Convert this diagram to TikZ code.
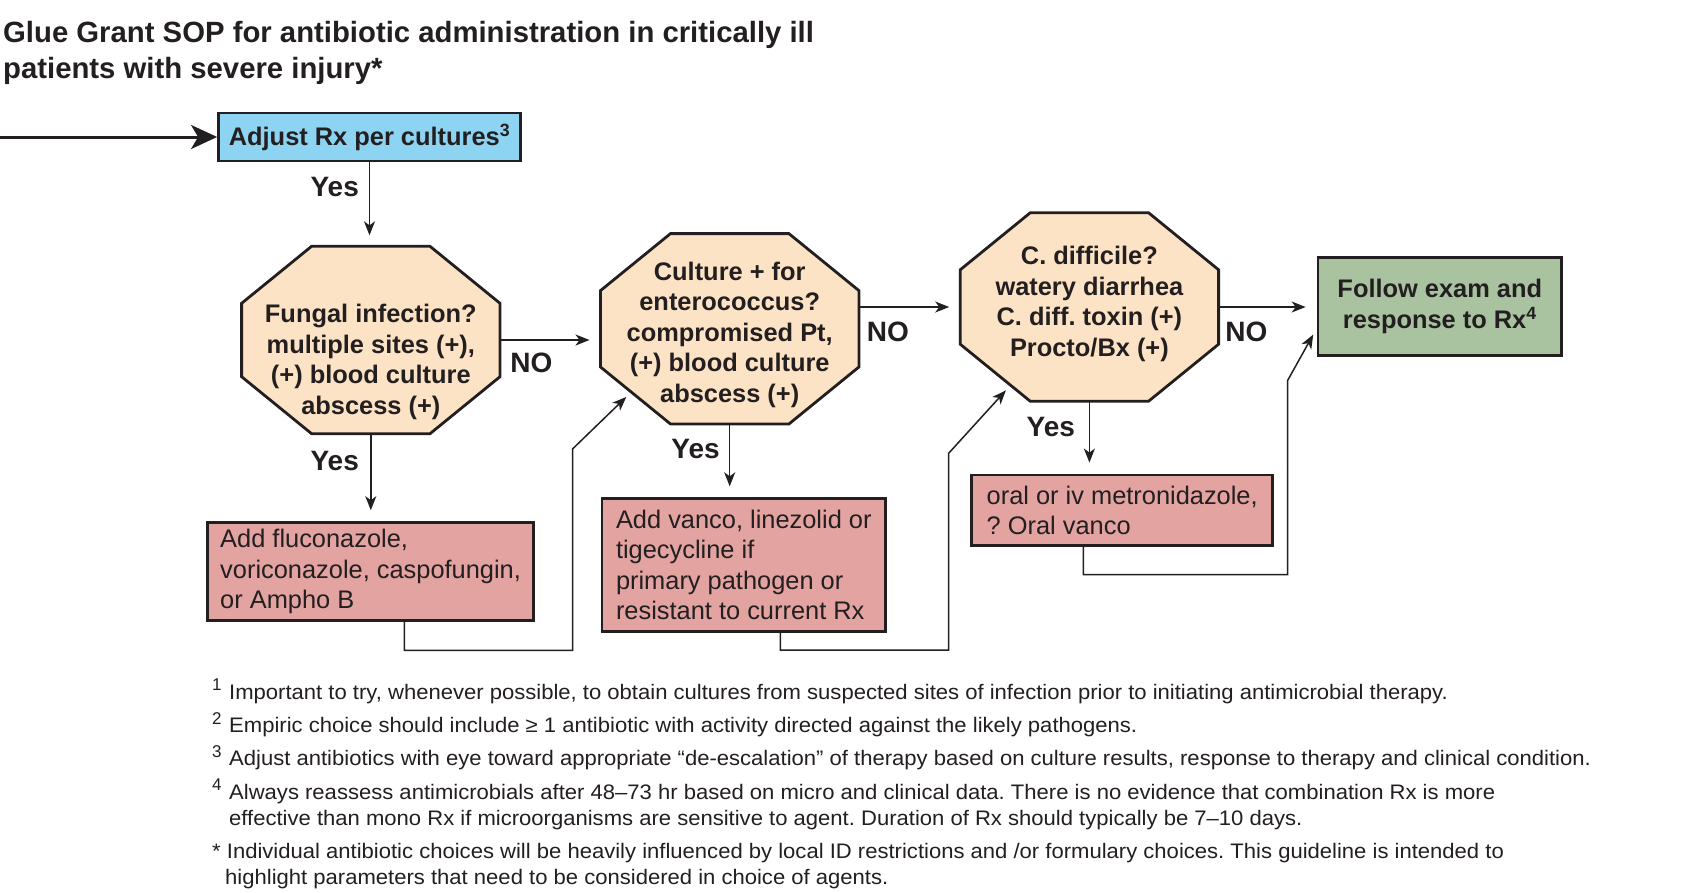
\documentclass[tikz,border=0pt]{standalone}
\usepackage{fontspec}
\setmainfont{Liberation Sans}
\newfontfamily\fnfont[FakeStretch=1.05]{Liberation Sans}
\usetikzlibrary{arrows.meta,calc}
\frenchspacing
\definecolor{ink}{HTML}{231F20}
\definecolor{bluebox}{HTML}{8DD3F2}
\definecolor{peach}{HTML}{FDE3C5}
\definecolor{greenbox}{HTML}{A9C3A0}
\definecolor{redbox}{HTML}{E2A3A1}
\newcommand\octpath[1]{%
  \draw[octline] ([xshift=70pt]#1.north west) -- ([xshift=-70pt]#1.north east)
    -- ([yshift=-57pt]#1.north east) -- ([yshift=57pt]#1.south east)
    -- ([xshift=-70pt]#1.south east) -- ([xshift=70pt]#1.south west)
    -- ([yshift=57pt]#1.south west) -- ([yshift=-57pt]#1.north west) -- cycle;}
\begin{document}
\frenchspacing
\begin{tikzpicture}[x=1pt,y=-1pt,
  boldtxt/.style={font=\fontsize{25.4}{30.5}\selectfont\bfseries, text=ink},
  labeltxt/.style={font=\fontsize{28}{32}\selectfont\bfseries, text=ink},
  plaintxt/.style={font=\fontsize{25.4}{30.5}\selectfont, text=ink},
  box/.style={draw=ink, line width=2.8pt, inner sep=0pt},
  octline/.style={draw=ink, fill=peach, line width=2.8pt, line join=miter},
  octframe/.style={minimum width=258pt, inner sep=0pt, draw=none},
  conn/.style={draw=ink, line width=1.5pt, -{Stealth[length=14pt,width=11pt,inset=4pt]}, shorten >=11pt},
  link/.style={draw=ink, line width=1.5pt, -{Stealth[length=14pt,width=11pt,inset=4pt]}, shorten >=7pt},
  inarrow/.style={draw=ink, line width=3pt, -{Stealth[length=26pt,width=24pt,inset=7pt]}},
  fn/.style={anchor=base west, font=\fnfont\fontsize{21}{24}\selectfont, text=ink, inner sep=0pt},
  fnm/.style={anchor=base west, font=\fontsize{17}{18}\selectfont, text=ink, inner sep=0pt},
  ttl/.style={anchor=base west, font=\fontsize{29.3}{36}\selectfont\bfseries, text=ink, inner sep=0pt}
]
\fill[white] (0,0) rectangle (1704,892);
\useasboundingbox (0,0) rectangle (1704,892);

% title
\node[ttl] (title1) at (3,42) {Glue Grant SOP for antibiotic administration in critically ill};
\node[ttl] (title2) at (3,78) {patients with severe injury*};

% start box
\node[box, fill=bluebox, boldtxt, minimum width=302pt, minimum height=48pt] (blue) at (369.5,137) {Adjust Rx per cultures\textsuperscript{3}};
\coordinate (start) at (0,137);
\draw[inarrow] (start) -- (blue.west);

% octagons
\node[octframe, minimum height=187pt] (oct1) at (370.8,340) {};
\octpath{oct1}
\node[boldtxt, align=center] (oct1t) at (370.8,361.7) {Fungal infection?\\multiple sites (+),\\(+) blood culture\\abscess (+)};

\node[octframe, minimum height=190pt] (oct2) at (729.7,328.8) {};
\octpath{oct2}
\node[boldtxt, align=center] (oct2t) at (729.7,334.7) {Culture + for\\enterococcus?\\compromised Pt,\\(+) blood culture\\abscess (+)};

\node[octframe, minimum height=188pt] (oct3) at (1089.4,307) {};
\octpath{oct3}
\node[boldtxt, align=center] (oct3t) at (1089.4,303.7) {C. difficile?\\watery diarrhea\\C. diff. toxin (+)\\Procto/Bx (+)};

% end box
\node[box, fill=greenbox, boldtxt, align=center, minimum width=243.5pt, minimum height=98pt] (green) at (1439.8,306.4) {Follow exam and\\response to Rx\textsuperscript{4}};

% action boxes
\node[box, fill=redbox, plaintxt, align=left, minimum width=326pt, minimum height=98pt] (red1) at (370.6,571.6) {Add fluconazole,\\voriconazole, caspofungin,\\or Ampho B};
\node[box, fill=redbox, plaintxt, align=left, minimum width=283.6pt, minimum height=132.6pt] (red2) at (743.8,565) {Add vanco, linezolid or\\tigecycline if\\primary pathogen or\\resistant to current Rx};
\node[box, fill=redbox, plaintxt, align=left, minimum width=301pt, minimum height=70.7pt] (red3) at (1122.2,510.3) {oral or iv metronidazole,\\? Oral vanco};

% main connectors
\draw[conn] (blue.south) -- (blue.south |- oct1.north);
\draw[conn] (oct1.south) -- (oct1.south |- red1.north);
\draw[conn] (oct2.south) -- (oct2.south |- red2.north);
\draw[conn] (oct3.south) -- (oct3.south |- red3.north);
\draw[conn] (oct1.east) -- (oct1.east -| oct2.west);
\draw[conn] (oct3.west -| oct2.east) -- (oct3.west);
\draw[conn] (oct3.east) -- (oct3.east -| green.west);

% return connectors
\coordinate (k1) at (572.7,448.8);
\coordinate (k2) at (948.7,453.2);
\coordinate (k3) at (1287.7,380.3);
\coordinate (t2) at ([shift={(30.8,-31.9)}]oct2.south west);
\coordinate (t3) at ([shift={(50.4,-16)}]oct3.south west);
\coordinate (t4) at ([yshift=-22pt]green.west);
\draw[link] ([xshift=33.7pt]red1.south) -- ++(0,28.3) -| (k1) -- (t2);
\draw[link] ([xshift=36.5pt]red2.south) -- ++(0,17.4) -| (k2) -- (t3);
\draw[link] ([xshift=-38.9pt]red3.south) -- ++(0,27.65) -| (k3) -- (t4);

% labels
\node[labeltxt] (yes0) at (334.7,187) {Yes};
\node[labeltxt] (yes1) at (334.7,460.8) {Yes};
\node[labeltxt] (yes2) at (695.5,448.8) {Yes};
\node[labeltxt] (yes3) at (1050.8,427) {Yes};
\node[labeltxt] (no1) at (531.4,363) {NO};
\node[labeltxt] (no2) at (887.8,331.4) {NO};
\node[labeltxt] (no3) at (1246.4,331.4) {NO};

% footnotes
\node[fnm] (m1) at (212,690) {1};
\node[fn] (f1) at (229,699.5) {Important to try, whenever possible, to obtain cultures from suspected sites of infection prior to initiating antimicrobial therapy.};
\node[fnm] (m2) at (212,724) {2};
\node[fn] (f2) at (229,732.8) {Empiric choice should include ≥ 1 antibiotic with activity directed against the likely pathogens.};
\node[fnm] (m3) at (212,757) {3};
\node[fn] (f3) at (229,765.5) {Adjust antibiotics with eye toward appropriate “de-escalation” of therapy based on culture results, response to therapy and clinical condition.};
\node[fnm] (m4) at (212,790) {4};
\node[fn] (f4a) at (229,799) {Always reassess antimicrobials after 48–73 hr based on micro and clinical data. There is no evidence that combination Rx is more};
\node[fn] (f4b) at (229,825) {effective than mono Rx if microorganisms are sensitive to agent. Duration of Rx should typically be 7–10 days.};
\node[fn] (f5a) at (212,858.5) {* Individual antibiotic choices will be heavily influenced by local ID restrictions and /or formulary choices. This guideline is intended to};
\node[fn] (f5b) at (225,884.5) {highlight parameters that need to be considered in choice of agents.};
\end{tikzpicture}
\end{document}
